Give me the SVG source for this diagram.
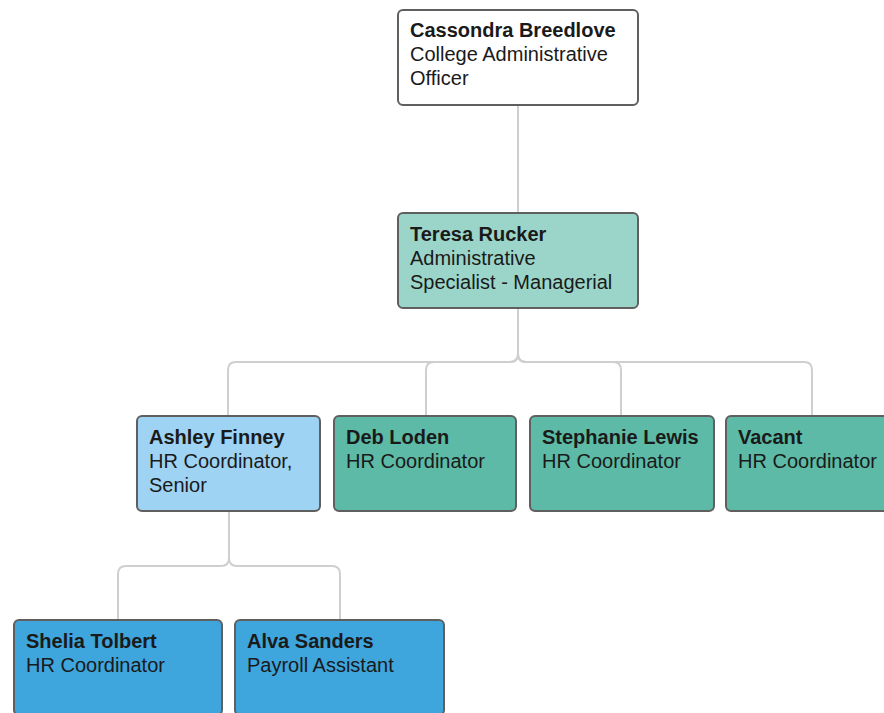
<svg xmlns="http://www.w3.org/2000/svg" width="884" height="713" viewBox="0 0 884 713">
<style>
.box{stroke:#5f5f5f;stroke-width:2}
.t{font-family:"Liberation Sans",Arial,sans-serif;font-size:20px;fill:#1a1a1a}
.b{font-weight:bold}
.c{fill:none;stroke:#cfcfcf;stroke-width:2}
</style>
<rect width="884" height="713" fill="#ffffff"/>
<g id="connectors">
<path class="c" d="M518 105 V213"/>
<path class="c" d="M518 308 V354 Q518 362 510 362 H236 Q228 362 228 370 V416"/>
<path class="c" d="M518 354 Q518 362 510 362 H434 Q426 362 426 370 V416"/>
<path class="c" d="M518 354 Q518 362 526 362 H613 Q621 362 621 370 V416"/>
<path class="c" d="M518 354 Q518 362 526 362 H804 Q812 362 812 370 V416"/>
<path class="c" d="M229 512 V558 Q229 566 221 566 H126 Q118 566 118 574 V620"/>
<path class="c" d="M229 558 Q229 566 237 566 H332 Q340 566 340 574 V620"/>
</g>
<g id="cassondra">
<rect class="box" x="398" y="10" width="240" height="95" rx="5" fill="#ffffff" stroke="#333333"/>
<text class="t" x="410"><tspan class="b" x="410" y="37">Cassondra Breedlove</tspan><tspan x="410" y="61">College Administrative</tspan><tspan x="410" y="85">Officer</tspan></text>
</g>
<g id="teresa">
<rect class="box" x="398" y="213" width="240" height="95" rx="5" fill="#9bd5c9"/>
<text class="t"><tspan class="b" x="410" y="241">Teresa Rucker</tspan><tspan x="410" y="265">Administrative</tspan><tspan x="410" y="289">Specialist - Managerial</tspan></text>
</g>
<g id="ashley">
<rect class="box" x="137" y="416" width="183" height="95" rx="5" fill="#9ed3f3"/>
<text class="t"><tspan class="b" x="149" y="444">Ashley Finney</tspan><tspan x="149" y="468">HR Coordinator,</tspan><tspan x="149" y="492">Senior</tspan></text>
</g>
<g id="deb">
<rect class="box" x="334" y="416" width="182" height="95" rx="5" fill="#5cbaa6"/>
<text class="t"><tspan class="b" x="346" y="444">Deb Loden</tspan><tspan x="346" y="468">HR Coordinator</tspan></text>
</g>
<g id="stephanie">
<rect class="box" x="530" y="416" width="184" height="95" rx="5" fill="#5cbaa6"/>
<text class="t"><tspan class="b" x="542" y="444">Stephanie Lewis</tspan><tspan x="542" y="468">HR Coordinator</tspan></text>
</g>
<g id="vacant">
<rect class="box" x="726" y="416" width="184" height="95" rx="5" fill="#5cbaa6"/>
<text class="t"><tspan class="b" x="738" y="444">Vacant</tspan><tspan x="738" y="468">HR Coordinator</tspan></text>
</g>
<g id="shelia">
<rect class="box" x="14" y="620" width="208" height="95" rx="5" fill="#3ea5dd"/>
<text class="t"><tspan class="b" x="26" y="648">Shelia Tolbert</tspan><tspan x="26" y="672">HR Coordinator</tspan></text>
</g>
<g id="alva">
<rect class="box" x="235" y="620" width="209" height="95" rx="5" fill="#3ea5dd"/>
<text class="t"><tspan class="b" x="247" y="648">Alva Sanders</tspan><tspan x="247" y="672">Payroll Assistant</tspan></text>
</g>
</svg>
